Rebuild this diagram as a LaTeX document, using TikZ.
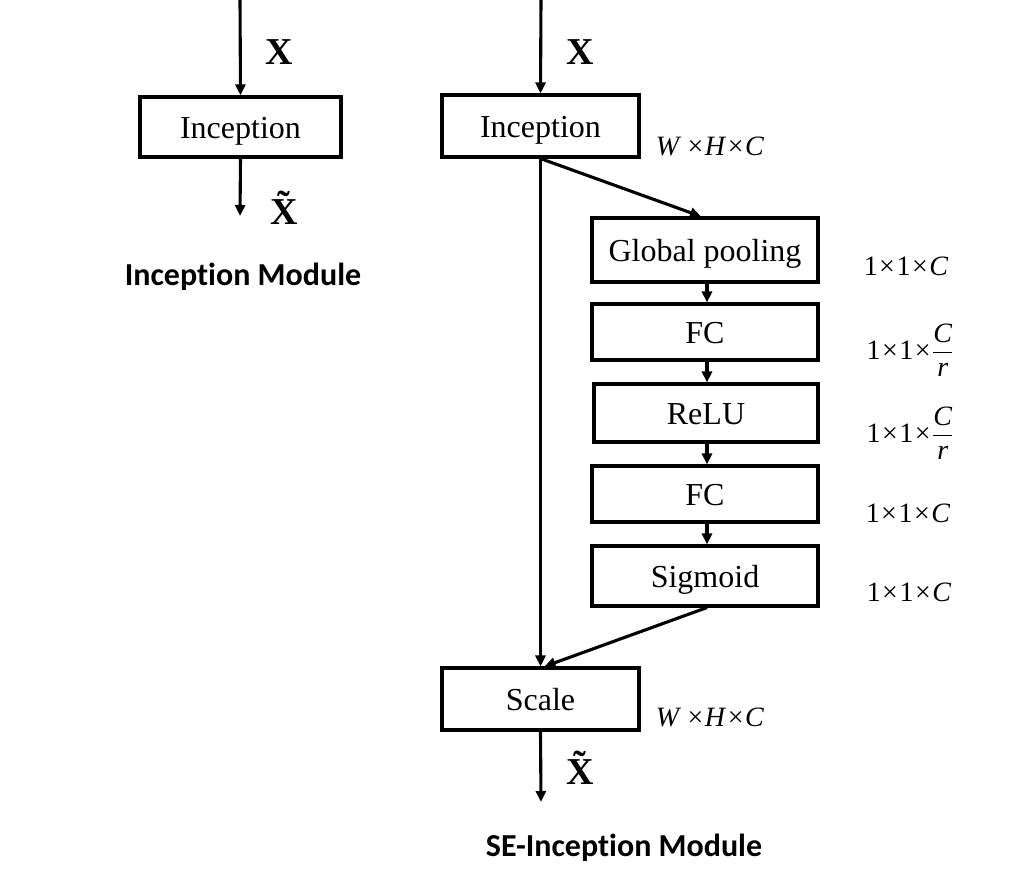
\documentclass[tikz,border=0pt]{standalone}
\usepackage{amsmath}
\usepackage{fontspec}
\setmainfont{Liberation Serif}
\newfontfamily\capfont[Ligatures=NoCommon]{Carlito}
\usetikzlibrary{arrows.meta,calc}
\newcommand{\tm}{\kern1.5pt×\kern1.5pt}
\newcommand{\tX}{\accent"02DC X}
\begin{document}
\begin{tikzpicture}[x=1pt,y=-1pt,
  blk/.style={draw,line width=3.1pt,inner sep=0pt,text height=23pt,text depth=0pt,font=\fontsize{32}{36}\selectfont},
  conn/.style={line width=3.1pt,-{Triangle[length=11pt,width=10pt]}},
  var/.style={font=\fontsize{38}{42}\selectfont\bfseries},
  dim/.style={font=\fontsize{28}{32}\selectfont,anchor=center},
  captxt/.style={font=\fontsize{32}{36}\selectfont\capfont\bfseries}]
\useasboundingbox (0,0) rectangle (1015,879);
% left module
\node[blk,minimum width=201pt,minimum height=60pt] (inc1) at (240.5,127) {Inception};
\coordinate (in1) at (240,0);
\coordinate (out1) at (240,216);
\draw[conn] (in1) -- (inc1.north);
\draw[conn] (inc1.south) -- (out1);
\node[var] (x1) at (279,52) {X};
\node[var] (xt1) at (284,208) {\tX};
\node[captxt] (cap1) at (243,277) {Inception Module};
% right module
\node[blk,minimum width=197pt,minimum height=62pt] (inc2) at (540.5,126) {Inception};
\coordinate (in2) at (541,0);
\draw[conn] (in2) -- (inc2.north);
\node[var] (x2) at (580,52) {X};
\node[blk,minimum width=226pt,minimum height=64pt] (gp) at (705,250) {Global pooling};
\node[blk,minimum width=226pt,minimum height=56pt] (fc1) at (705,332) {FC};
\node[blk,minimum width=224pt,minimum height=58pt] (relu) at (706,413) {ReLU};
\node[blk,minimum width=226pt,minimum height=56pt] (fc2) at (705,494) {FC};
\node[blk,minimum width=226pt,minimum height=60pt] (sig) at (705,576) {Sigmoid};
\node[blk,minimum width=197pt,minimum height=62pt] (scale) at (540.5,699) {Scale};
\coordinate (out2) at (541,802);
\draw[conn] (inc2.south) -- ($(gp.north)+(-4,0)$);
\draw[conn] (inc2.south) -- (scale.north);
\draw[conn] ($(gp.south)+(2,0)$) -- ($(fc1.north)+(2,0)$);
\draw[conn] ($(fc1.south)+(2,0)$) -- ($(relu.north)+(1,0)$);
\draw[conn] ($(relu.south)+(1,0)$) -- ($(fc2.north)+(2,0)$);
\draw[conn] ($(fc2.south)+(2,0)$) -- ($(sig.north)+(2,0)$);
\draw[conn] ($(sig.south)+(2,0)$) -- ($(scale.north)+(4,0)$);
\draw[conn] (scale.south) -- (out2);
\node[var] (xt2) at (580,768) {\tX};
\node[captxt] (cap2) at (624,848) {SE-Inception Module};
% dimension labels
\node[dim] (d0) at (710,146) {\textit{W}\,\tm\textit{H}\tm\textit{C}};
\node[dim] (d1) at (906,266) {1\tm1\tm\textit{C}};
\node[dim] (d2) at (910,350) {1\tm1\tm$\dfrac{\textit{C}}{\textit{r}}$};
\node[dim] (d3) at (910,433) {1\tm1\tm$\dfrac{\textit{C}}{\textit{r}}$};
\node[dim] (d4) at (908,513) {1\tm1\tm\textit{C}};
\node[dim] (d5) at (909,592) {1\tm1\tm\textit{C}};
\node[dim] (d6) at (710,717) {\textit{W}\,\tm\textit{H}\tm\textit{C}};
\end{tikzpicture}
\end{document}
